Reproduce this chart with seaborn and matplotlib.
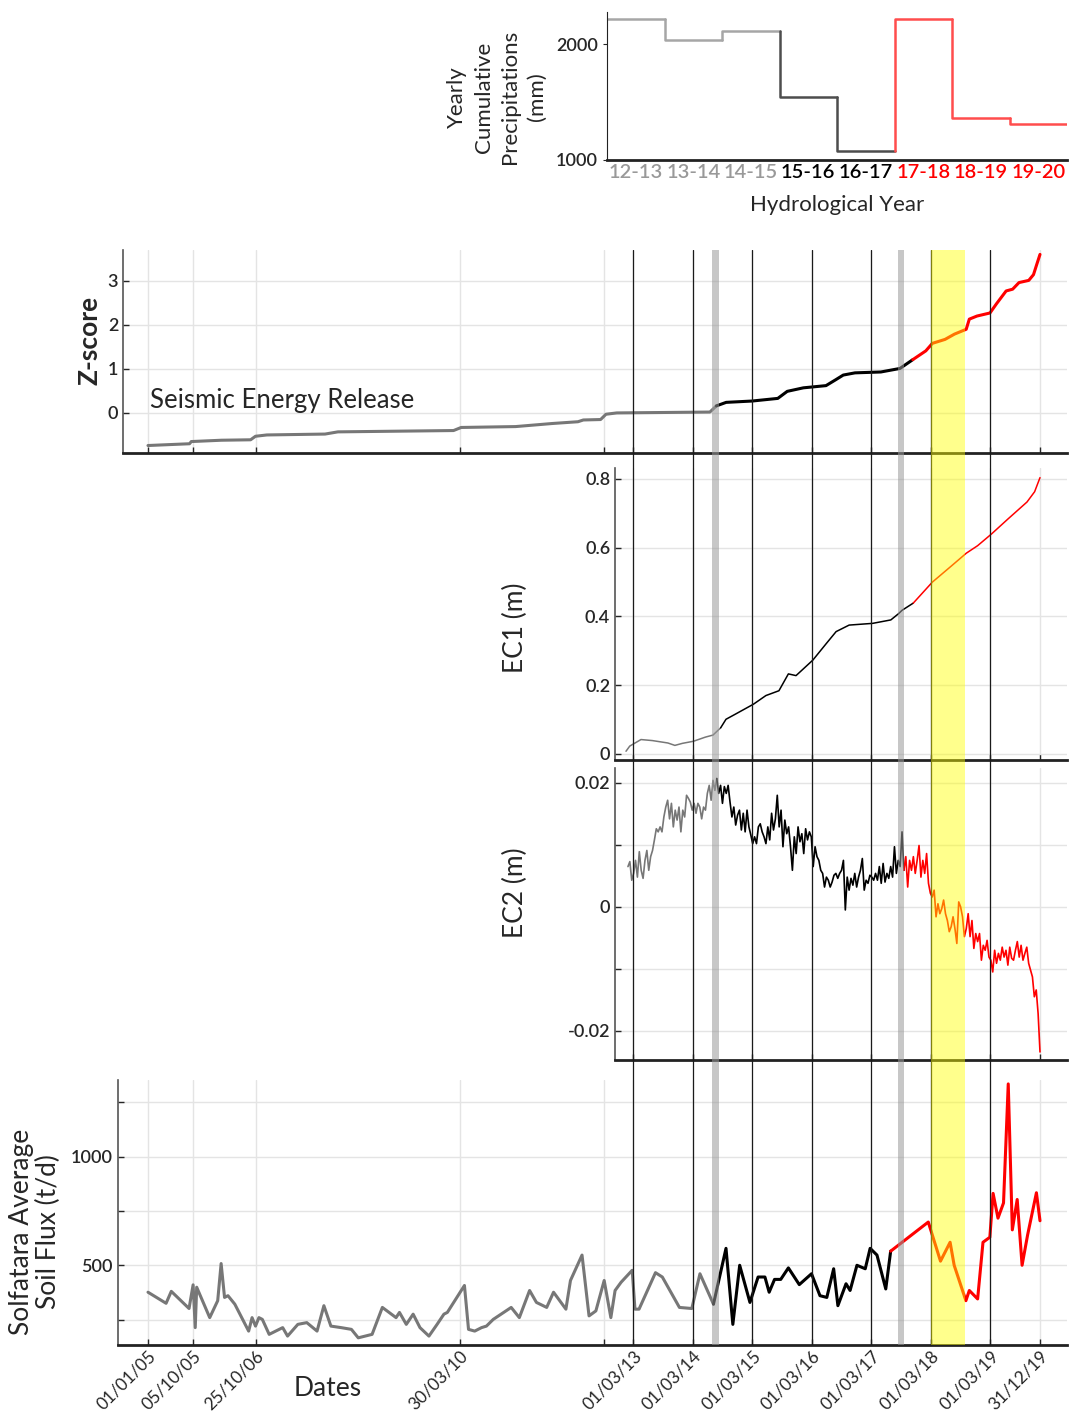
import numpy as np
import pandas as pd
import matplotlib
matplotlib.use('Agg')
import matplotlib.pyplot as plt
import seaborn as sns

# ---- data -------------------------------------------------------------
hydro_years = ['12-13', '13-14', '14-15', '15-16', '16-17', '17-18', '18-19', '19-20']
precip_mm = [2215, 2034, 2112, 1543, 1078, 2215, 1362, 1310]
precip_line_colors = ['#a6a6a6', '#a6a6a6', '#a6a6a6', '#4d4d4d', '#4d4d4d', '#ff4d4d', '#ff4d4d', '#ff4d4d']
precip_label_colors = ['#999999', '#999999', '#999999', 'black', 'black', '#ff0000', '#ff0000', '#ff0000']

z_dates = ['2005-01-01', '2005-09-13', '2005-09-24', '2006-03-28', '2006-09-23', '2006-10-23',
           '2007-01-01', '2007-12-24', '2008-03-12', '2010-02-20', '2010-04-08', '2011-03-08',
           '2011-10-20', '2012-03-25', '2012-04-27', '2012-08-11', '2012-09-13', '2012-11-18',
           '2014-06-13', '2014-07-23', '2014-09-21', '2015-02-27', '2015-08-04', '2015-10-01',
           '2016-01-08', '2016-05-26', '2016-07-23', '2016-09-09', '2016-11-20', '2017-04-28',
           '2017-08-23', '2017-11-10', '2018-01-29', '2018-03-10', '2018-05-27', '2018-07-24',
           '2018-10-04', '2018-10-23', '2018-12-09', '2019-02-27', '2019-04-08', '2019-06-06',
           '2019-07-16', '2019-08-24', '2019-10-23', '2019-11-21', '2019-12-10', '2019-12-31']
z_score = [-0.74, -0.70, -0.65, -0.62, -0.61, -0.53, -0.50, -0.48, -0.43, -0.40, -0.33, -0.31,
           -0.24, -0.20, -0.16, -0.15, -0.03, 0.00, 0.02, 0.16, 0.24, 0.27, 0.33, 0.49,
           0.57, 0.62, 0.75, 0.86, 0.91, 0.93, 1.01, 1.21, 1.41, 1.58, 1.67, 1.79,
           1.90, 2.13, 2.20, 2.27, 2.48, 2.77, 2.81, 2.96, 3.01, 3.14, 3.36, 3.60]

ec1_dates = ['2013-01-14', '2013-02-06', '2013-04-16', '2013-06-25', '2013-09-28', '2013-11-10',
             '2013-12-27', '2014-03-04', '2014-05-16', '2014-07-02', '2014-08-18', '2014-09-20',
             '2014-11-17', '2015-03-08', '2015-05-23', '2015-08-11', '2015-10-08', '2015-11-24',
             '2016-03-06', '2016-05-29', '2016-07-27', '2016-10-15', '2017-03-08', '2017-06-28',
             '2017-08-14', '2017-09-05', '2017-11-13', '2018-03-10', '2018-07-05', '2018-10-04',
             '2018-12-13', '2019-03-08', '2019-06-18', '2019-10-12', '2019-11-28', '2019-12-31']
ec1_m = [0.008, 0.023, 0.042, 0.039, 0.032, 0.025, 0.031, 0.037, 0.049, 0.055, 0.076, 0.101,
         0.116, 0.145, 0.170, 0.184, 0.233, 0.228, 0.273, 0.322, 0.356, 0.375, 0.380, 0.390,
         0.408, 0.418, 0.439, 0.500, 0.547, 0.584, 0.606, 0.640, 0.684, 0.733, 0.763, 0.804]

# EC2 sampled at a regular revisit between these two dates (values in mm)
ec2_start, ec2_end = '2013-01-26', '2019-12-31'
ec2_mm = [6.5, 7.3, 4.3, 5.4, 7.5, 4.8, 8.9, 5.9, 4.6, 7.5,
          9.1, 5.9, 8.1, 9.1, 10.8, 12.6, 12.1, 12.9, 12.1, 14.5,
          16.1, 17.2, 14.2, 16.7, 12.9, 15.6, 14.0, 16.1, 12.1, 15.6,
          14.5, 18.0, 17.5, 16.9, 15.6, 16.7, 15.1, 16.7, 16.1, 14.2,
          16.1, 15.6, 18.3, 19.6, 17.2, 20.4, 18.8, 20.7, 18.3, 19.6,
          16.7, 19.4, 18.3, 19.6, 16.9, 14.5, 16.1, 13.2, 14.8, 15.6,
          12.4, 15.1, 12.1, 15.6, 12.9, 11.6, 10.2, 11.3, 10.2, 12.9,
          13.4, 12.1, 11.3, 10.2, 12.9, 10.8, 15.1, 12.4, 14.2, 18.0,
          12.9, 15.6, 9.7, 14.0, 11.8, 12.9, 9.7, 5.9, 11.3, 8.6,
          12.9, 10.5, 11.8, 8.6, 12.6, 10.8, 12.1, 11.3, 6.5, 9.7,
          8.1, 7.5, 5.9, 5.4, 3.2, 4.8, 4.3, 3.2, 4.0, 5.1,
          5.4, 4.6, 5.4, 5.9, 7.5, -0.5, 4.8, 2.7, 4.6, 3.5,
          5.4, 3.2, 4.8, 5.9, 7.8, 2.7, 4.3, 3.8, 5.1, 4.8,
          4.3, 5.4, 4.3, 6.5, 3.8, 7.0, 4.0, 5.4, 4.6, 6.5,
          4.8, 9.7, 5.4, 7.5, 6.5, 12.1, 5.9, 8.1, 3.2, 7.5,
          5.9, 8.1, 5.4, 7.5, 9.9, 4.8, 7.5, 5.4, 8.6, 3.8,
          2.2, 1.6, 2.7, -1.6, 0.5, -1.1, -0.3, 1.1, -1.1, -2.2,
          -4.0, -3.2, -1.6, -3.5, -5.9, 0.8, 0.0, -1.6, -4.8, -3.5,
          -1.1, -4.8, -2.2, -6.7, -4.3, -5.6, -4.3, -8.6, -6.2, -7.0,
          -5.4, -8.1, -8.6, -10.5, -7.0, -9.1, -7.5, -8.6, -6.5, -8.1,
          -7.0, -9.4, -6.5, -8.3, -8.6, -7.0, -5.6, -8.1, -6.2, -8.6,
          -7.5, -6.5, -9.1, -10.2, -11.3, -14.5, -13.4, -17.2, -23.4]

flux_dates = ['2005-01-01', '2005-04-22', '2005-05-24', '2005-09-10', '2005-10-05', '2005-10-18',
              '2005-10-27', '2006-01-15', '2006-03-05', '2006-03-26', '2006-04-16', '2006-05-07',
              '2006-06-18', '2006-09-11', '2006-10-02', '2006-10-23', '2006-11-13', '2006-12-04',
              '2007-01-15', '2007-04-08', '2007-05-08', '2007-07-10', '2007-09-03', '2007-11-05',
              '2007-12-17', '2008-01-29', '2008-04-01', '2008-06-03', '2008-07-15', '2008-10-08',
              '2008-12-10', '2009-03-04', '2009-03-25', '2009-05-06', '2009-06-17', '2009-07-29',
              '2009-09-22', '2009-11-11', '2009-12-23', '2010-01-13', '2010-04-28', '2010-05-23',
              '2010-06-30', '2010-08-11', '2010-09-10', '2010-10-22', '2011-02-09', '2011-03-31',
              '2011-06-02', '2011-07-14', '2011-09-15', '2011-10-27', '2012-01-11', '2012-02-08',
              '2012-04-19', '2012-06-01', '2012-07-13', '2012-09-02', '2012-10-13', '2012-11-08',
              '2012-12-15', '2013-02-21', '2013-03-10', '2013-04-04', '2013-07-14', '2013-08-25',
              '2013-12-08', '2014-02-22', '2014-04-13', '2014-07-05', '2014-09-20', '2014-11-01',
              '2014-12-13', '2015-02-14', '2015-04-05', '2015-05-17', '2015-06-12', '2015-07-15',
              '2015-08-22', '2015-10-08', '2015-12-14', '2016-02-27', '2016-04-19', '2016-05-31',
              '2016-07-12', '2016-08-07', '2016-09-26', '2016-10-21', '2016-12-02', '2017-01-22',
              '2017-02-21', '2017-04-04', '2017-05-28', '2017-06-27', '2018-02-13', '2018-04-29',
              '2018-06-27', '2018-07-22', '2018-10-02', '2018-10-23', '2018-12-13', '2019-01-15',
              '2019-02-26', '2019-03-18', '2019-04-17', '2019-05-21', '2019-06-19', '2019-07-14',
              '2019-08-13', '2019-09-12', '2019-10-16', '2019-12-09', '2019-12-31']
flux_td = [376, 325, 380, 301, 410, 213, 399, 259, 337, 508, 352, 360,
           321, 197, 259, 220, 259, 251, 182, 213, 174, 228, 236, 197,
           314, 220, 213, 205, 166, 182, 306, 259, 283, 228, 275, 213,
           174, 228, 275, 283, 407, 205, 197, 213, 220, 251, 306, 259,
           384, 329, 306, 376, 298, 430, 547, 267, 290, 430, 259, 384,
           422, 477, 298, 298, 466, 446, 306, 301, 461, 321, 578, 228,
           500, 329, 446, 446, 376, 435, 435, 488, 411, 461, 360, 352,
           484, 314, 415, 384, 500, 484, 578, 547, 391, 565, 699, 519,
           606, 500, 337, 384, 345, 606, 629, 831, 717, 787, 1335, 663,
           803, 500, 640, 834, 705]

tick_dates = ['2005-01-01', '2005-10-05', '2006-10-25', '2010-03-30', '2012-09-01', '2013-03-01',
              '2014-03-01', '2015-03-01', '2016-03-01', '2017-03-01', '2018-03-01', '2019-03-01',
              '2019-12-31']
tick_labels = ['01/01/05', '05/10/05', '25/10/06', '30/03/10', '', '01/03/13', '01/03/14',
               '01/03/15', '01/03/16', '01/03/17', '01/03/18', '01/03/19', '31/12/19']
year_marks = ['2013-03-01', '2014-03-01', '2015-03-01', '2016-03-01', '2017-03-01',
              '2018-03-01', '2019-03-01']
gray_bands = [('2014-06-25', '2014-08-06'), ('2017-08-10', '2017-09-20')]
unrest_band = ('2018-03-01', '2018-09-25')

# ---- style / layout ---------------------------------------------------
W, H = 1069, 1416
sns.set_style('white')
plt.rcParams['font.family'] = ['Lato', 'DejaVu Sans']
plt.rcParams['axes.edgecolor'] = '#222222'

phase_colors = ['#777777', '#000000', '#ff0000']
grid_kw = dict(color='#e4e4e4', lw=1.0)


def box(l, t, r, b):
    return [l / W, 1 - b / H, (r - l) / W, (b - t) / H]


T_A, X_A = pd.Timestamp('2005-01-01'), 148
T_B, X_B = pd.Timestamp('2019-12-31'), 1040
dpp = (T_B - T_A) / (X_B - X_A)


def tlim(l, r):
    return T_A + (l - X_A) * dpp, T_A + (r - X_A) * dpp


def phased_line(ax, dates, values, cuts, lw):
    df = pd.DataFrame({'date': pd.to_datetime(dates), 'value': values})
    phase = np.zeros(len(df), dtype=int)
    for c in pd.to_datetime(cuts):
        phase += (df['date'] >= c).to_numpy()
    for k, color in enumerate(phase_colors):
        idx = np.flatnonzero(phase == k)
        if idx.size == 0:
            continue
        seg = df.iloc[idx[0]:min(idx[-1] + 2, len(df))]
        sns.lineplot(data=seg, x='date', y='value', ax=ax, color=color, lw=lw, estimator=None)


def finish_time_axes(ax, rect_px, labels=False):
    # ticks first: set_xticks widens the view to include every tick
    ax.set_xticks(pd.to_datetime(tick_dates))
    ax.set_xticklabels(tick_labels if labels else [''] * len(tick_labels))
    ax.set_xlim(tlim(rect_px[0], rect_px[2]))
    ax.grid(True, **grid_kw)
    ax.set_axisbelow(True)
    ax.tick_params(axis='x', length=4, width=1, direction='in', bottom=True, pad=2)
    ax.tick_params(axis='y', length=4, width=1, direction='in', left=True, labelsize=13)
    for lab in ax.get_yticklabels():
        lab.set_fontweight('semibold')
    for s in ['top', 'right']:
        ax.spines[s].set_visible(False)
    ax.spines['bottom'].set_linewidth(2)
    ax.spines['left'].set_linewidth(1.2)
    ax.spines['left'].set_color('#555555')
    ax.set_xlabel('')
    ax.set_ylabel('')


fig = plt.figure(figsize=(W / 100, H / 100), dpi=100)

# ---- precipitation steps ----------------------------------------------
ax0 = fig.add_axes(box(607, 12, 1067, 160), facecolor='none')
for i, (v, c) in enumerate(zip(precip_mm, precip_line_colors)):
    xs = [i, i + 1] if i == 0 else [i, i, i + 1]
    ys = [v, v] if i == 0 else [precip_mm[i - 1], v, v]
    sns.lineplot(x=xs, y=ys, ax=ax0, color=c, lw=1.8, estimator=None, sort=False)
ax0.set_xlim(0, 8)
ax0.set_ylim(1000, 2276)
ax0.set_xticks(np.arange(len(hydro_years)) + 0.5)
ax0.set_xticklabels(hydro_years)
for lab, c in zip(ax0.get_xticklabels(), precip_label_colors):
    lab.set_color(c)
    lab.set_fontweight('semibold')
ax0.set_yticks([1000, 2000])
ax0.tick_params(axis='x', length=0, labelsize=14.5, pad=3)
ax0.tick_params(axis='y', length=3, left=True, labelsize=13)
for lab in ax0.get_yticklabels():
    lab.set_fontweight('semibold')
for s in ['top', 'right']:
    ax0.spines[s].set_visible(False)
ax0.spines['bottom'].set_linewidth(2)
ax0.set_xlabel('Hydrological Year', fontsize=16, labelpad=10)
fig.text(497 / W, 1 - 97 / H, 'Yearly\nCumulative\nPrecipitations\n(mm)', rotation=90,
         ha='center', va='center', multialignment='center', fontsize=16, linespacing=1.4)

# ---- Z-score ----------------------------------------------------------
z_rect = (123, 250, 1067, 453)
ax1 = fig.add_axes(box(*z_rect), facecolor='none')
phased_line(ax1, z_dates, z_score, ['2014-07-01', '2017-09-01'], lw=2.2)
ax1.set_ylim(-0.91, 3.70)
ax1.set_yticks([0, 1, 2, 3])
finish_time_axes(ax1, z_rect)
ax1.text((150 - 123) / 944, (453 - 401) / 203, 'Seismic Energy Release', transform=ax1.transAxes,
         fontsize=18.5, va='center', ha='left')
fig.text(90 / W, 1 - 340 / H, 'Z-score', rotation=90, ha='center', va='center',
         fontsize=19, fontweight='bold')

# ---- EC1 --------------------------------------------------------------
ec1_rect = (615, 468, 1067, 760)
ax2 = fig.add_axes(box(*ec1_rect), facecolor='none')
phased_line(ax2, ec1_dates, ec1_m, ['2014-07-20', '2017-09-15'], lw=1.1)
ax2.set_ylim(-0.0175, 0.832)
ax2.set_yticks([0, 0.2, 0.4, 0.6, 0.8])
ax2.set_yticklabels(['0', '0.2', '0.4', '0.6', '0.8'])
finish_time_axes(ax2, ec1_rect)
fig.text(515 / W, 1 - 628 / H, 'EC1 (m)', rotation=90, ha='center', va='center', fontsize=19)

# ---- EC2 --------------------------------------------------------------
ec2_dates = pd.date_range(ec2_start, ec2_end, periods=len(ec2_mm))
ec2_rect = (615, 768, 1067, 1060)
ax3 = fig.add_axes(box(*ec2_rect), facecolor='none')
phased_line(ax3, ec2_dates, np.array(ec2_mm) / 1000, ['2014-07-20', '2017-09-15'], lw=1.2)
ax3.set_ylim(-0.0247, 0.0224)
ax3.set_yticks([-0.02, -0.01, 0, 0.01, 0.02])
ax3.set_yticklabels(['-0.02', '', '0', '', '0.02'])
finish_time_axes(ax3, ec2_rect)
fig.text(515 / W, 1 - 893 / H, 'EC2 (m)', rotation=90, ha='center', va='center', fontsize=19)

# ---- soil flux --------------------------------------------------------
flux_rect = (118, 1080, 1067, 1345)
ax4 = fig.add_axes(box(*flux_rect), facecolor='none')
phased_line(ax4, flux_dates, flux_td, ['2014-07-01', '2017-06-20'], lw=2.2)
ax4.set_ylim(133, 1353)
ax4.set_yticks([250, 500, 750, 1000, 1250])
ax4.set_yticklabels(['', '500', '', '1000', ''])
finish_time_axes(ax4, flux_rect, labels=True)
plt.setp(ax4.get_xticklabels(), rotation=45, ha='right', rotation_mode='anchor', fontsize=12.5)
fig.text(328 / W, 1 - 1388 / H, 'Dates', ha='center', va='center', fontsize=19)
fig.text(35 / W, 1 - 1232 / H, 'Solfatara Average\nSoil Flux (t/d)', rotation=90,
         ha='center', va='center', multialignment='center', fontsize=19, linespacing=1.05)

# ---- shared markers across the time panels ----------------------------
ov = fig.add_axes(box(118, 250, 1067, 1345), facecolor='none', zorder=10)
ov.set_xlim(tlim(118, 1067))
ov.set_ylim(0, 1)
ov.axis('off')
for d in pd.to_datetime(year_marks):
    ov.axvline(d, color='#1a1a1a', lw=0.9, zorder=1)
for a, b in gray_bands:
    ov.axvspan(pd.Timestamp(a), pd.Timestamp(b), color='#999999', alpha=0.55, lw=0, zorder=2)
ov.axvspan(pd.Timestamp(unrest_band[0]), pd.Timestamp(unrest_band[1]), color='#ffff00',
           alpha=0.45, lw=0, zorder=3)

fig.savefig('out.png', dpi=100)
